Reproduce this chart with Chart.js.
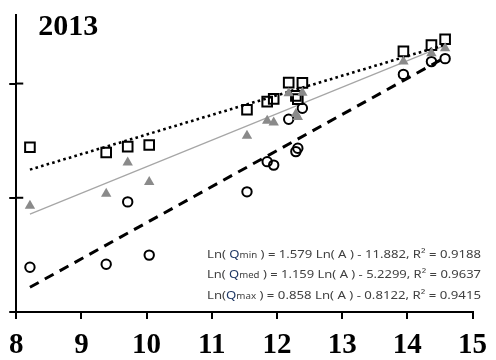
<!DOCTYPE html>
<html>
<head>
<meta charset="utf-8">
<script src="https://cdn.jsdelivr.net/npm/chart.js@4.4.1/dist/chart.umd.min.js"></script>
<style>
  html, body { margin: 0; padding: 0; background: #fff; }
  #wrap { width: 496px; height: 360px; position: relative; }
</style>
</head>
<body>
<div id="wrap"><canvas id="c" width="496" height="360"></canvas></div>
<script>
// Ln(A) of each station and the matching Ln(Q) values
const lnA    = [8.21, 9.38, 9.71, 10.04, 11.54, 11.85, 11.95, 12.18, 12.29, 12.32, 12.39, 13.94, 14.37, 14.58];
const lnQmin = [1.96, 2.09, 4.82, 2.49, 5.26, 6.58, 6.43, 8.44, 7.02, 7.17, 8.92, 10.40, 10.96, 11.09];
const lnQmed = [4.65, 5.18, 6.54, 5.69, 7.71, 8.37, 8.29, 9.57, 8.67, 8.54, 9.60, 10.96, 11.33, 11.55];
const lnQmax = [7.21, 6.98, 7.24, 7.31, 8.85, 9.21, 9.33, 10.04, 9.46, 9.32, 10.03, 11.41, 11.68, 11.94];

// fitted regressions: Ln(Q) = slope * Ln(A) + intercept
const fitNames      = ['min', 'med', 'max'];
const fitSlope      = [1.579, 1.159, 0.858];
const fitIntercept  = [-11.882, -5.2299, -0.8122];
const fitInterceptText = ['11.882', '5.2299', '0.8122'];
const fitR2         = ['0.9188', '0.9637', '0.9415'];

const xTicks = [8, 9, 10, 11, 12, 13, 14, 15];
const yTicks = [0, 5, 10];
const yearLabel = '2013';

const pts = (ys) => lnA.map((x, i) => ({ x: x, y: ys[i] }));
const xLo = Math.min(...lnA), xHi = Math.max(...lnA);
const fitLine = (k) => [
  { x: xLo, y: fitSlope[k] * xLo + fitIntercept[k] },
  { x: xHi, y: fitSlope[k] * xHi + fitIntercept[k] }
];

const overlay = {
  id: 'overlay',
  afterDraw(chart) {
    const ctx = chart.ctx;
    const xs = chart.scales.x, ys = chart.scales.y;
    ctx.save();
    // inner half of the y tick marks (ticks cross the axis)
    ctx.strokeStyle = '#000';
    ctx.lineWidth = 2;
    yTicks.forEach(v => {
      const py = ys.getPixelForValue(v);
      ctx.beginPath();
      ctx.moveTo(xs.left, py);
      ctx.lineTo(xs.left + 7, py);
      ctx.stroke();
    });
    // year label
    ctx.fillStyle = '#000';
    ctx.font = 'bold 30px "Liberation Serif", "Times New Roman", serif';
    ctx.textBaseline = 'alphabetic';
    ctx.textAlign = 'left';
    ctx.fillText(yearLabel, xs.left + 22, ys.top + 20);

    // regression equations
    const baseFont = '11.5px "Noto Sans", sans-serif';
    const smallFont = '8.5px "Noto Sans", sans-serif';
    const x0 = 207, x1 = 481;
    const baselines = [257.5, 277.5, 299.3];
    fitNames.forEach((nm, k) => {
      const parts = [
        { t: k === 2 ? 'Ln(' : 'Ln( ', f: baseFont, c: '#404040' },
        { t: 'Q', f: baseFont, c: '#1f3864' },
        { t: nm, f: smallFont, c: '#404040' },
        { t: ' ) = ' + fitSlope[k].toFixed(3) + ' Ln( A ) - ' + fitInterceptText[k] + ', R² = ' + fitR2[k], f: baseFont, c: '#404040' }
      ];
      let w = 0;
      parts.forEach(p => { ctx.font = p.f; p.w = ctx.measureText(p.t).width; w += p.w; });
      const sx = (x1 - x0) / w;
      ctx.save();
      ctx.translate(x0, baselines[k]);
      ctx.scale(sx, 1);
      let cx = 0;
      parts.forEach(p => {
        ctx.font = p.f;
        ctx.fillStyle = p.c;
        ctx.fillText(p.t, cx, 0);
        cx += p.w;
      });
      ctx.restore();
    });
    ctx.restore();
  }
};

new Chart(document.getElementById('c'), {
  type: 'scatter',
  data: {
    datasets: [
      {
        label: 'Qmed',
        data: pts(lnQmed),
        pointStyle: 'triangle',
        pointRadius: 6,
        backgroundColor: '#8a8a8a',
        borderColor: '#8a8a8a',
        borderWidth: 0,
        order: 0
      },
      {
        label: 'Qmin',
        data: pts(lnQmin),
        pointStyle: 'circle',
        pointRadius: 4.7,
        backgroundColor: 'rgba(0,0,0,0)',
        borderColor: '#000',
        borderWidth: 2,
        order: 1
      },
      {
        label: 'Qmax',
        data: pts(lnQmax),
        pointStyle: 'rect',
        pointRadius: 6.8,
        backgroundColor: 'rgba(0,0,0,0)',
        borderColor: '#000',
        borderWidth: 2,
        order: 2
      },
      {
        type: 'line',
        label: 'fit max',
        data: fitLine(2),
        borderColor: '#000',
        borderWidth: 2.6,
        borderDash: [2.6, 3.2],
        pointRadius: 0,
        fill: false,
        order: 3
      },
      {
        type: 'line',
        label: 'fit med',
        data: fitLine(1),
        borderColor: '#a6a6a6',
        borderWidth: 1.2,
        pointRadius: 0,
        fill: false,
        order: 4
      },
      {
        type: 'line',
        label: 'fit min',
        data: fitLine(0),
        borderColor: '#000',
        borderWidth: 3,
        borderDash: [10, 7],
        pointRadius: 0,
        fill: false,
        order: 5
      }
    ]
  },
  options: {
    responsive: false,
    animation: false,
    devicePixelRatio: 1,
    layout: { padding: { left: 0, top: 15, right: 15, bottom: 0 } },
    plugins: { legend: { display: false }, tooltip: { enabled: false }, title: { display: false } },
    scales: {
      x: {
        type: 'linear',
        min: 8, max: 15,
        afterBuildTicks: (s) => { s.ticks = xTicks.map(v => ({ value: v })); },
        afterFit: (s) => { s.height = 48; },
        ticks: {
          color: '#000',
          padding: 9,
          font: { family: '"Liberation Serif", "Times New Roman", serif', size: 29, weight: 'bold' },
          maxRotation: 0,
          autoSkip: false
        },
        grid: { drawOnChartArea: false, drawTicks: true, tickLength: 7, color: '#000', lineWidth: 2 },
        border: { display: true, color: '#000', width: 2 }
      },
      y: {
        type: 'linear',
        min: 0, max: 13,
        afterBuildTicks: (s) => { s.ticks = yTicks.map(v => ({ value: v })); },
        afterFit: (s) => { s.width = 15; },
        ticks: { display: false },
        grid: { drawOnChartArea: false, drawTicks: true, tickLength: 7, color: '#000', lineWidth: 2 },
        border: { display: true, color: '#000', width: 2 }
      }
    }
  },
  plugins: [overlay]
});
</script>
</body>
</html>
